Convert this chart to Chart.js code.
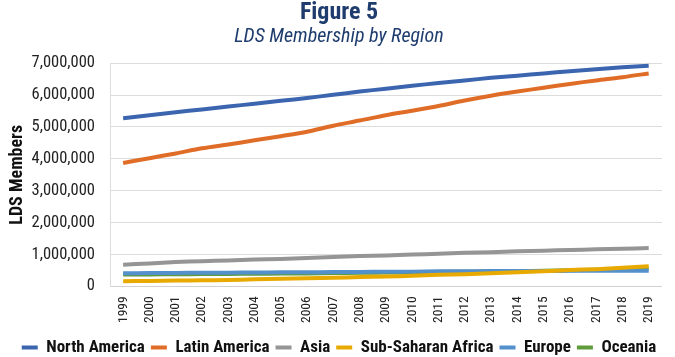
<!DOCTYPE html>
<html>
<head>
<meta charset="utf-8">
<script src="https://cdn.jsdelivr.net/npm/chart.js@4/dist/chart.umd.min.js"></script>
<style>
html,body{margin:0;padding:0;background:#fff;}
#c{display:block;}
</style>
</head>
<body>
<canvas id="c" width="675" height="357"></canvas>
<script>
const years = ['1999','2000','2001','2002','2003','2004','2005','2006','2007','2008','2009','2010','2011','2012','2013','2014','2015','2016','2017','2018','2019'];
const northAmerica = [5270000,5370000,5460000,5550000,5640000,5730000,5820000,5910000,6010000,6110000,6200000,6290000,6380000,6460000,6540000,6610000,6680000,6750000,6810000,6870000,6920000];
const latinAmerica = [3870000,4020000,4170000,4330000,4450000,4580000,4710000,4850000,5040000,5200000,5370000,5510000,5660000,5830000,5980000,6110000,6230000,6350000,6460000,6560000,6680000];
const asia = [680000,720000,760000,790000,810000,840000,860000,890000,920000,950000,970000,1000000,1020000,1050000,1070000,1100000,1120000,1140000,1160000,1180000,1200000];
const subSaharanAfrica = [160000,170000,180000,190000,200000,220000,240000,250000,270000,290000,310000,330000,360000,380000,410000,440000,470000,510000,540000,580000,630000];
const europe = [410000,415000,420000,425000,430000,435000,440000,440000,450000,450000,460000,460000,470000,470000,480000,480000,480000,490000,490000,490000,490000];
const oceania = [370000,375000,380000,385000,390000,395000,400000,405000,415000,425000,435000,440000,450000,460000,470000,480000,490000,505000,520000,540000,560000];
const yTicks = [0,1000000,2000000,3000000,4000000,5000000,6000000,7000000];

const FONT = "'Roboto Condensed','Liberation Sans Narrow','Liberation Sans',sans-serif";
const series = [
  ['North America', northAmerica, '#3C65AF'],
  ['Latin America', latinAmerica, '#E06D27'],
  ['Asia', asia, '#959595'],
  ['Sub-Saharan Africa', subSaharanAfrica, '#E8AA00'],
  ['Europe', europe, '#5390CC'],
  ['Oceania', oceania, '#5E9B3B']
];
const datasets = series.map(([label, data, color]) => ({
  label, data, borderColor: color, backgroundColor: color,
  borderWidth: 4, pointRadius: 0, tension: 0.3, fill: false
}));
new Chart(document.getElementById('c'), {
  type: 'line',
  data: { labels: years, datasets },
  options: {
    responsive: false,
    animation: false,
    layout: { padding: { left: 7, right: 4, top: 0, bottom: -9 } },
    plugins: {
      title: {
        display: true, text: 'Figure 5', color: '#1F3C6E',
        font: { family: FONT, size: 24, weight: 'bold', lineHeight: 1.05 },
        padding: { top: 0, bottom: 0 }
      },
      subtitle: {
        display: true, text: 'LDS Membership by Region', color: '#1F3C6E',
        font: { family: FONT, size: 20, style: 'italic' },
        padding: { top: 0, bottom: 14 }
      },
      legend: {
        position: 'bottom',
        labels: {
          boxWidth: 16, boxHeight: 4, padding: 6, color: '#111',
          font: { family: FONT, size: 17, weight: 'bold' },
          generateLabels(chart) {
            const items = Chart.defaults.plugins.legend.labels.generateLabels(chart);
            items.forEach(it => { it.lineWidth = 0; it.strokeStyle = it.fillStyle; });
            return items;
          }
        }
      },
      tooltip: { enabled: false }
    },
    scales: {
      x: {
        offset: true,
        grid: { display: false, drawTicks: false },
        border: { display: true, color: '#d0d0d0', width: 1 },
        ticks: {
          minRotation: 90, maxRotation: 90, autoSkip: false, padding: 10,
          color: '#222', font: { family: FONT, size: 13.5 }
        }
      },
      y: {
        min: 0, max: 7000000,
        afterBuildTicks(axis) { axis.ticks = yTicks.map(v => ({ value: v })); },
        afterFit(axis) { axis.width = 103; },
        grid: { color: '#dcdcdc', drawTicks: false },
        border: { display: true, color: '#dcdcdc' },
        ticks: {
          padding: 15, color: '#222', font: { family: FONT, size: 16.5 },
          callback: v => Number(v).toLocaleString('en-US')
        },
        title: {
          display: true, text: 'LDS Members', color: '#111',
          font: { family: FONT, size: 18, weight: 'bold' },
          padding: { top: 0, bottom: 0 }
        }
      }
    }
  }
});
</script>
</body>
</html>
